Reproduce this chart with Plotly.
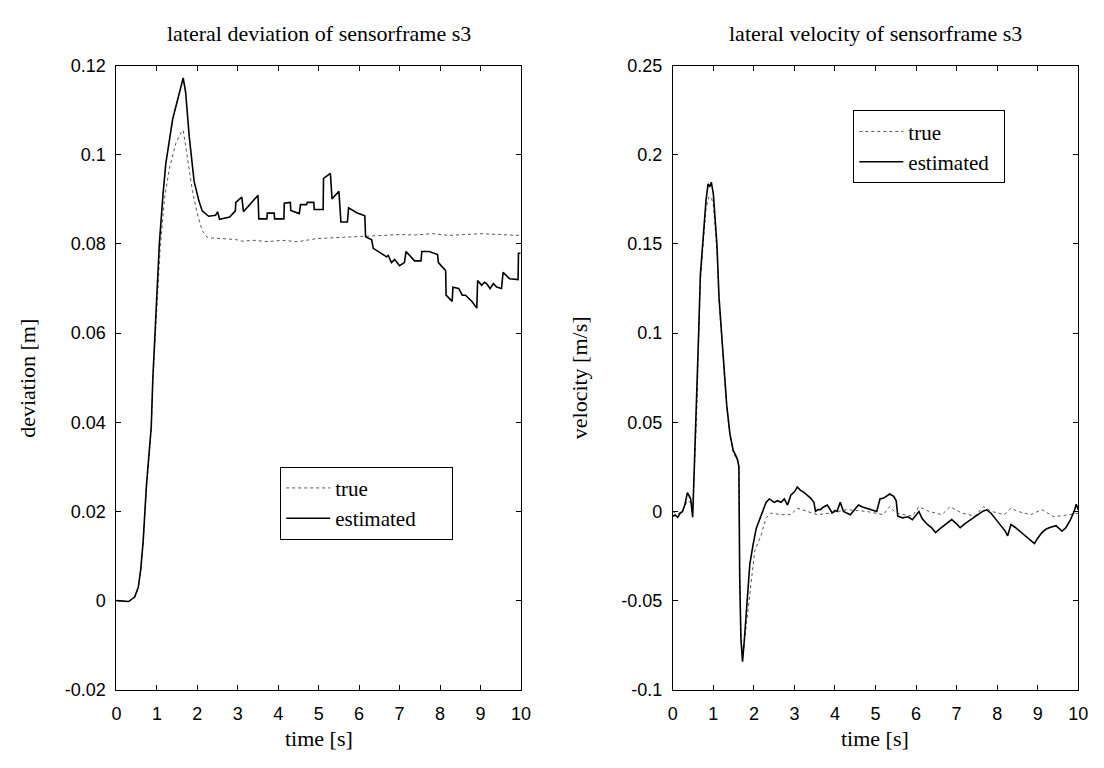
import plotly.graph_objects as go

# lateral deviation of sensor frame s3 [m]
dev_true_t = [0.00, 0.30, 0.45, 0.54, 0.60, 0.66, 0.74, 0.86, 0.90, 0.98, 1.02, 1.08, 1.19, 1.31,
              1.47, 1.60, 1.65, 1.71, 1.80, 1.88, 2.00, 2.12, 2.24, 2.37, 2.94, 3.10, 3.40, 3.75,
              4.10, 4.48, 4.97, 5.37, 5.78, 6.11, 6.59, 7.00, 7.40, 7.81, 8.22, 8.63, 9.03, 9.44,
              9.97, 10.00]
dev_true_v = [0.0000, -0.0002, 0.0008, 0.0030, 0.0068, 0.0130, 0.0250, 0.0385, 0.0495, 0.0630,
              0.0700, 0.0790, 0.0903, 0.0970, 0.1026, 0.1050, 0.1055, 0.1020, 0.0970, 0.0918,
              0.0867, 0.0830, 0.0815, 0.0813, 0.0810, 0.0806, 0.0808, 0.0805, 0.0808, 0.0805,
              0.0812, 0.0814, 0.0817, 0.0817, 0.0819, 0.0821, 0.0820, 0.0823, 0.0819, 0.0821,
              0.0823, 0.0821, 0.0819, 0.0819]

dev_est_t = [0.00, 0.30, 0.45, 0.54, 0.60, 0.66, 0.74, 0.86, 0.90, 0.98, 1.02, 1.06, 1.15, 1.22,
             1.39, 1.55, 1.65, 1.71, 1.80, 1.92, 2.04, 2.12, 2.28, 2.45, 2.50, 2.55, 2.80, 2.94,
             2.95, 3.10, 3.14, 3.50, 3.52, 3.72, 3.73, 3.90, 3.91, 4.14, 4.15, 4.30, 4.31, 4.52,
             4.55, 4.70, 4.72, 4.88, 4.89, 5.11, 5.12, 5.29, 5.33, 5.50, 5.55, 5.71, 5.74, 5.94,
             6.14, 6.16, 6.31, 6.35, 6.51, 6.68, 6.72, 6.80, 6.88, 7.00, 7.12, 7.16, 7.37, 7.53,
             7.55, 7.73, 7.94, 7.96, 8.14, 8.15, 8.30, 8.32, 8.46, 8.55, 8.63, 8.79, 8.91, 8.93,
             9.03, 9.10, 9.15, 9.24, 9.32, 9.40, 9.52, 9.56, 9.72, 9.93, 9.94, 9.99]
dev_est_v = [0.0000, -0.0002, 0.0008, 0.0030, 0.0070, 0.0133, 0.0257, 0.0390, 0.0500, 0.0640,
             0.0720, 0.0800, 0.0910, 0.0980, 0.1080, 0.1140, 0.1172, 0.1140, 0.1040, 0.0940,
             0.0896, 0.0874, 0.0862, 0.0864, 0.0872, 0.0855, 0.0860, 0.0874, 0.0893, 0.0905,
             0.0872, 0.0909, 0.0856, 0.0856, 0.0869, 0.0869, 0.0856, 0.0856, 0.0891, 0.0893,
             0.0875, 0.0868, 0.0888, 0.0888, 0.0893, 0.0893, 0.0877, 0.0877, 0.0947, 0.0958,
             0.0901, 0.0918, 0.0849, 0.0849, 0.0881, 0.0870, 0.0863, 0.0816, 0.0809, 0.0790,
             0.0780, 0.0771, 0.0774, 0.0758, 0.0765, 0.0751, 0.0758, 0.0783, 0.0762, 0.0762,
             0.0783, 0.0783, 0.0776, 0.0758, 0.0740, 0.0685, 0.0671, 0.0703, 0.0700, 0.0685,
             0.0685, 0.0671, 0.0656, 0.0718, 0.0707, 0.0714, 0.0711, 0.0700, 0.0711, 0.0703,
             0.0700, 0.0736, 0.0722, 0.0720, 0.0779, 0.0779]

# lateral velocity of sensor frame s3 [m/s]
vel_true_t = [0.00, 0.12, 0.24, 0.36, 0.44, 0.49, 0.53, 0.60, 0.64, 0.68, 0.76, 0.82, 0.89, 0.95,
              1.00, 1.09, 1.14, 1.19, 1.25, 1.33, 1.41, 1.49, 1.56, 1.63, 1.65, 1.68, 1.72, 1.82,
              1.94, 2.02, 2.18, 2.30, 2.42, 2.67, 2.91, 3.07, 3.32, 3.56, 3.89, 4.29, 4.78, 5.19,
              5.35, 5.51, 5.91, 6.07, 6.32, 6.64, 6.84, 7.13, 7.45, 7.66, 7.86, 8.18, 8.34, 8.51,
              8.83, 9.10, 9.40, 9.70, 10.00]
vel_true_v = [0.0000, -0.0015, 0.0005, 0.0060, 0.0050, 0.0000, 0.0200, 0.0620, 0.0990, 0.1290,
              0.1530, 0.1700, 0.1764, 0.1760, 0.1720, 0.1460, 0.1180, 0.1020, 0.0820, 0.0590,
              0.0420, 0.0330, 0.0300, 0.0260, -0.0300, -0.0680, -0.0825, -0.0624, -0.0370,
              -0.0222, -0.0131, -0.0036, -0.0009, -0.0018, -0.0018, 0.0018, 0.0000, -0.0018,
              -0.0009, 0.0010, 0.0000, -0.0018, 0.0027, -0.0009, -0.0027, 0.0027, 0.0000,
              -0.0018, 0.0027, -0.0009, -0.0027, 0.0027, 0.0000, -0.0018, 0.0018, 0.0000,
              -0.0018, 0.0010, -0.0030, -0.0020, -0.0010]

vel_est_t = [0.00, 0.06, 0.12, 0.18, 0.24, 0.30, 0.36, 0.40, 0.44, 0.49, 0.53, 0.60, 0.64, 0.68,
             0.72, 0.76, 0.82, 0.87, 0.91, 0.95, 1.00, 1.05, 1.09, 1.14, 1.19, 1.25, 1.33, 1.41,
             1.49, 1.56, 1.60, 1.63, 1.65, 1.68, 1.72, 1.76, 1.82, 1.90, 1.98, 2.06, 2.18, 2.30,
             2.38, 2.45, 2.50, 2.58, 2.67, 2.75, 2.83, 2.91, 3.00, 3.07, 3.15, 3.22, 3.32, 3.40,
             3.48, 3.52, 3.58, 3.64, 3.72, 3.81, 3.87, 3.93, 4.00, 4.05, 4.13, 4.21, 4.30, 4.38,
             4.48, 4.58, 4.68, 4.78, 4.90, 5.03, 5.11, 5.20, 5.35, 5.45, 5.51, 5.55, 5.67, 5.80,
             5.91, 6.00, 6.07, 6.15, 6.28, 6.38, 6.48, 6.60, 6.72, 6.80, 6.88, 7.00, 7.09, 7.20,
             7.29, 7.40, 7.53, 7.64, 7.74, 7.85, 7.94, 8.02, 8.10, 8.20, 8.26, 8.34, 8.45, 8.59,
             8.70, 8.83, 8.92, 9.00, 9.10, 9.20, 9.30, 9.45, 9.60, 9.70, 9.80, 9.90, 9.95, 10.00]
vel_est_v = [-0.0027, -0.0020, -0.0033, -0.0010, 0.0000, 0.0040, 0.0106, 0.0090, 0.0071, -0.0033,
             0.0230, 0.0650, 0.1017, 0.1327, 0.1450, 0.1563, 0.1746, 0.1837, 0.1820, 0.1846,
             0.1780, 0.1620, 0.1490, 0.1200, 0.1050, 0.0830, 0.0596, 0.0434, 0.0342, 0.0310,
             0.0288, 0.0250, -0.0370, -0.0715, -0.0842, -0.0733, -0.0532, -0.0295, -0.0186,
             -0.0094, -0.0022, 0.0051, 0.0070, 0.0060, 0.0051, 0.0060, 0.0051, 0.0070, 0.0036,
             0.0091, 0.0110, 0.0137, 0.0118, 0.0110, 0.0091, 0.0075, 0.0051, 0.0000, 0.0010,
             0.0010, 0.0025, 0.0036, 0.0015, -0.0009, 0.0005, 0.0000, 0.0051, 0.0000, -0.0010,
             -0.0018, 0.0010, 0.0036, 0.0025, 0.0018, 0.0010, 0.0000, 0.0070, 0.0075, 0.0098,
             0.0085, 0.0060, -0.0027, -0.0036, -0.0030, -0.0046, -0.0020, 0.0000, -0.0040,
             -0.0073, -0.0090, -0.0118, -0.0095, -0.0073, -0.0060, -0.0046, -0.0070, -0.0091,
             -0.0070, -0.0055, -0.0040, -0.0018, 0.0000, 0.0009, -0.0010, -0.0036, -0.0060,
             -0.0082, -0.0110, -0.0137, -0.0073, -0.0090, -0.0118, -0.0140, -0.0164, -0.0180,
             -0.0150, -0.0120, -0.0100, -0.0090, -0.0080, -0.0110, -0.0090, -0.0050, 0.0000,
             0.0040, 0.0010]

time_ticks = list(range(0, 11))
dev_ticks = [-0.02, 0, 0.02, 0.04, 0.06, 0.08, 0.1, 0.12]
dev_tick_text = ["-0.02", "0", "0.02", "0.04", "0.06", "0.08", "0.1", "0.12"]
vel_ticks = [-0.1, -0.05, 0, 0.05, 0.1, 0.15, 0.2, 0.25]
vel_tick_text = ["-0.1", "-0.05", "0", "0.05", "0.1", "0.15", "0.2", "0.25"]

SERIF = "Liberation Serif, Times New Roman, serif"
SANS = "Liberation Sans, Arial, sans-serif"

# trailing no-break spaces give the legend boxes their right-hand padding
PAD = "\u00a0" * 6
true_line = dict(color="#555555", width=1, dash="dot")
est_line = dict(color="black", width=1.6)

fig = go.Figure()
fig.add_trace(go.Scatter(x=dev_true_t, y=dev_true_v, mode="lines", name="true",
                         line=true_line, xaxis="x", yaxis="y", legend="legend"))
fig.add_trace(go.Scatter(x=dev_est_t, y=dev_est_v, mode="lines", name="estimated" + PAD,
                         line=est_line, xaxis="x", yaxis="y", legend="legend"))
fig.add_trace(go.Scatter(x=vel_true_t, y=vel_true_v, mode="lines", name="true",
                         line=true_line, xaxis="x2", yaxis="y2", legend="legend2"))
fig.add_trace(go.Scatter(x=vel_est_t, y=vel_est_v, mode="lines", name="estimated" + "\u00a0\u00a0",
                         line=est_line, xaxis="x2", yaxis="y2", legend="legend2"))

W, H = 1104, 768


def px_x(p):
    return p / W


def px_y(p):
    return 1 - p / H


axis_common = dict(showgrid=False, zeroline=False, showline=True, linecolor="black",
                   linewidth=1, mirror="ticks", ticks="inside", ticklen=5, tickcolor="black",
                   tickfont=dict(family=SANS, size=18, color="black"))

legend_common = dict(xanchor="left", yanchor="top", bgcolor="white", bordercolor="black",
                     borderwidth=1, itemwidth=44,
                     font=dict(family=SERIF, size=21, color="black"))

fig.update_layout(
    width=W, height=H,
    margin=dict(l=0, r=0, t=0, b=0),
    paper_bgcolor="white", plot_bgcolor="white",
    xaxis=dict(domain=[px_x(113), px_x(523)], range=[0, 10], tickvals=time_ticks,
               anchor="y", ticklabelstandoff=8, **axis_common),
    yaxis=dict(domain=[px_y(698), px_y(57)], range=[-0.02, 0.12], tickvals=dev_ticks,
               ticktext=dev_tick_text, anchor="x", ticklabelstandoff=6, **axis_common),
    xaxis2=dict(domain=[px_x(677), px_x(1088)], range=[0, 10], tickvals=time_ticks,
                anchor="y2", ticklabelstandoff=8, **axis_common),
    yaxis2=dict(domain=[px_y(698), px_y(57)], range=[-0.1, 0.25], tickvals=vel_ticks,
                ticktext=vel_tick_text, anchor="x2", ticklabelstandoff=6, **axis_common),
    legend=dict(x=px_x(279), y=px_y(469), **legend_common),
    legend2=dict(x=px_x(860), y=px_y(103), **legend_common),
    showlegend=True,
)

annotations = [
    dict(text="lateral deviation of sensorframe s3", x=px_x(318), y=px_y(24)),
    dict(text="lateral velocity of sensorframe s3", x=px_x(882), y=px_y(24)),
    dict(text="time [s]", x=px_x(318), y=px_y(748)),
    dict(text="time [s]", x=px_x(882), y=px_y(748)),
    dict(text="deviation [m]", x=px_x(22), y=px_y(378), textangle=-90),
    dict(text="velocity [m/s]", x=px_x(582), y=px_y(378), textangle=-90),
]
for a in annotations:
    fig.add_annotation(xref="paper", yref="paper", showarrow=False,
                       xanchor="center", yanchor="middle",
                       font=dict(family=SERIF, size=22, color="black"), **a)

fig.write_html("out.html")
